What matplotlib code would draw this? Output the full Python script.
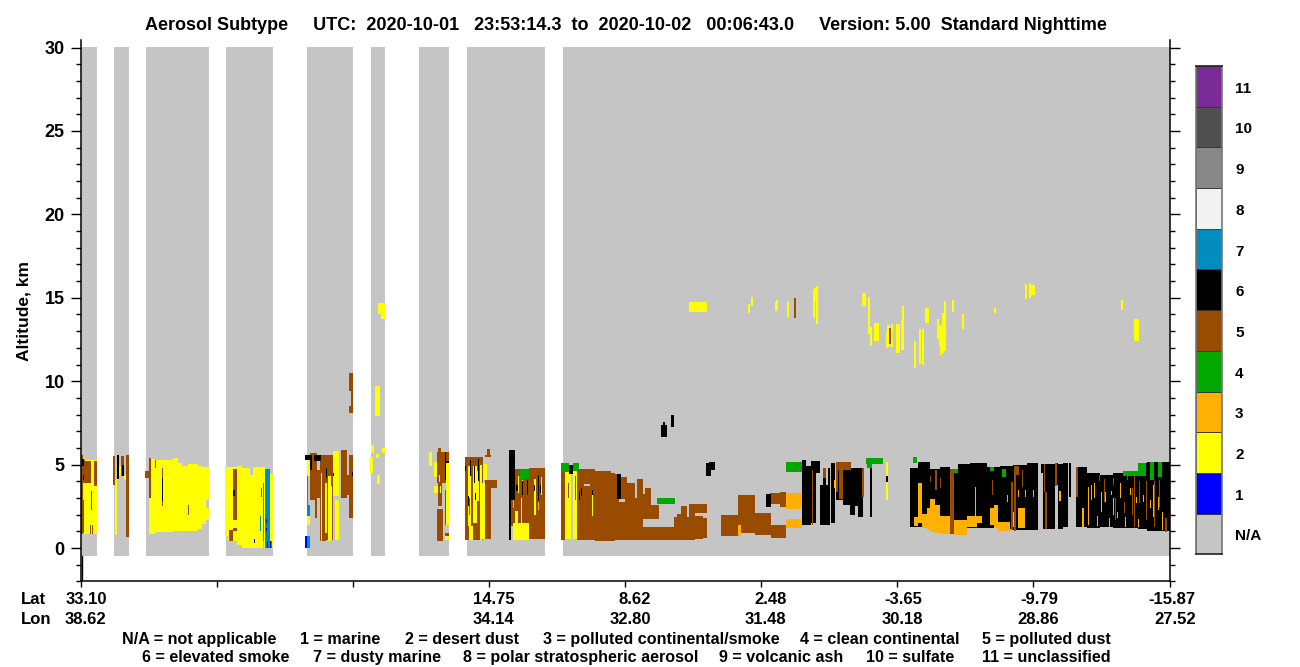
import matplotlib
matplotlib.use("Agg")
import matplotlib.pyplot as plt
import numpy as np

plt.rcParams["font.family"] = ["Liberation Sans", "DejaVu Sans"]
plt.rcParams["font.weight"] = "bold"

# everything below is (track start, track end, alt bottom km, alt top km)
# track = position along the orbit, one unit is one image column
na_tracks = [(0, 16), (33, 48), (65, 128), (145, 192), (226, 272), (290, 304),
             (338, 368), (386, 464), (482, 1089)]

dust_base = [
    (229, 236, 2.9, 5.7), (234, 236, 1.8, 2.9), (236, 239, 3.0, 4.7), (239, 245, 0.4, 5.6),
    (245, 252, 0.5, 5.6), (260, 266, 3.0, 5.9), (266, 268.5, 3.2, 4.4), (268, 272, 1.8, 5.6),
    (356, 368, 3.9, 5.75), (357, 361, 2.5, 3.9), (356, 362, 0.42, 2.35), (357, 360, 5.7, 6.0),
    (384, 402, 0.5, 5.45), (404, 416, 3.6, 4.1), (404, 410, 0.55, 3.6), (406, 409, 5.5, 5.95),
    (404, 410, 5.45, 5.55), (430, 448, 1.3, 4.75), (448, 464, 0.55, 4.8), (480, 484, 0.5, 4.55),
    (496, 514, 0.5, 4.75), (514, 530, 0.42, 4.6), (530, 534, 0.42, 4.5), (534, 540, 0.5, 4.45),
    (540, 546, 0.5, 4.25), (546, 554, 0.5, 3.9), (554, 556, 0.5, 3.0), (556, 562, 0.5, 4.15),
    (562, 564, 1.75, 3.25), (564, 570, 2.6, 3.6), (562, 578, 1.75, 2.6), (562, 593, 0.5, 1.25),
    (593, 596, 0.5, 1.85), (596, 600, 0.5, 2.05), (600, 606, 0.5, 2.5), (606, 608, 0.5, 1.85),
    (608, 626, 2.1, 2.65), (608, 614, 0.5, 2.1), (614, 622, 0.55, 1.9), (622, 626, 0.6, 1.8),
    (640, 657, 0.72, 1.98), (657, 674, 0.9, 3.18), (674, 690, 0.8, 2.1), (690, 705, 0.6, 1.38),
    (689, 705, 2.64, 3.3), (699, 705, 2.48, 3.34), (699, 705, 1.08, 1.38),
    (268, 272, 8.1, 8.5), (270, 272, 8.5, 9.4), (268, 272, 9.4, 10.5),
]

smoke_base = [
    (721, 725, 1.38, 5.28), (725, 730, 1.38, 4.9), (730, 735, 1.5, 5.2), (735, 739, 4.5, 5.2),
    (739, 749, 1.38, 3.78), (742, 745, 3.7, 4.8), (747, 749, 3.7, 4.8), (750, 754, 1.5, 5.1),
    (755, 782, 2.9, 4.8), (762, 769, 2.58, 4.78), (769, 774, 2.0, 4.78), (774, 777, 2.5, 4.78),
    (777, 782, 1.86, 4.78), (789, 791, 1.88, 4.88),
    (829, 837, 1.24, 4.78), (837, 849, 1.24, 5.16), (849, 859, 1.24, 4.72), (859, 869, 1.24, 4.88),
    (869, 877, 1.24, 4.72), (877, 889, 1.2, 5.04), (889, 906, 1.2, 5.08), (906, 919, 1.2, 4.88),
    (919, 932, 1.15, 4.92), (932, 946, 1.1, 5.0), (946, 957, 1.1, 5.08), (960, 962.5, 4.5, 5.04),
    (962.5, 974, 1.15, 5.04), (974, 977, 3.8, 5.1), (977, 982, 1.15, 5.04), (982, 987, 1.24, 5.12),
    (988, 990, 3.08, 5.08), (995, 1006, 1.24, 4.84), (1006, 1019, 1.2, 4.48), (1019, 1032, 1.24, 4.38),
    (1032, 1042, 1.2, 4.48), (1042, 1057, 1.2, 4.58), (1057, 1066, 1.15, 5.08), (1066, 1089, 1.02, 5.16),
]

desert_dust = [
    (0, 16, 0.84, 5.25), (34, 36, 0.8, 4.1), (36, 37.5, 4.1, 5.6), (38, 40, 4.4, 4.9), (43, 46, 4.1, 4.4),
    (68, 74, 0.85, 5.35), (74, 92, 0.95, 5.3), (92, 97, 1.0, 5.4), (97, 101, 1.03, 5.1),
    (101, 107, 1.03, 4.9), (107, 117, 1.02, 5.05), (117, 121, 1.15, 4.92), (121, 125, 1.45, 4.88),
    (125, 128, 1.7, 2.4), (125, 128, 2.9, 4.88),
    (144.5, 147.5, 0.75, 4.85), (147.5, 156, 0.4, 4.85), (156, 161, 0.2, 4.9), (161, 169, 0.02, 4.8),
    (169, 172.5, 0.02, 4.4), (172.5, 184, 0.02, 4.85), (189, 192, 0.02, 4.45),
    (226, 229, 1.4, 1.9), (226, 229, 4.3, 4.7), (226, 229, 4.7, 5.3), (252, 258, 3.1, 5.8), (254, 258, 0.5, 2.9),
    (240, 241, 0.4, 4.5), (244, 246, 0.9, 3.9), (247, 250, 0.4, 4.3), (250, 251, 0.5, 3.7),
    (294, 299, 7.9, 9.7), (290, 293, 5.7, 6.2), (289, 292, 4.5, 5.45), (295, 298, 5.4, 5.65),
    (296, 299, 3.85, 4.4), (301, 304, 5.7, 6.0), (297, 304, 14.0, 14.7), (300, 304, 13.7, 14.0),
    (348, 351.5, 4.9, 5.75), (353, 356, 4.25, 5.15), (353, 357, 3.3, 3.7), (365, 368, 1.4, 5.2),
    (364, 368, 0.5, 0.9), (358, 359, 3.95, 4.4), (359, 360, 3.3, 3.7),
    (388, 392, 0.5, 1.3), (387, 390, 1.3, 4.9), (392, 396, 1.5, 4.9), (399, 401.5, 0.5, 5.0),
    (401.5, 404, 0.55, 3.9), (402, 406, 4.1, 5.05), (396, 398, 2.8, 4.6),
    (432, 448, 0.5, 1.5), (434, 437.5, 0.7, 2.2), (433, 434, 3.2, 4.3), (437, 438, 3.3, 4.3),
    (441, 442, 3.2, 4.1), (440, 441, 1.2, 3.0), (453, 455, 2.0, 4.15), (460, 461, 3.2, 4.25),
    (484, 490, 0.52, 4.7), (492, 496, 0.52, 4.6), (511, 512, 1.9, 3.2),
    (805, 807, 2.88, 5.16),
    # up high
    (608, 626, 14.16, 14.76), (667, 669, 14.1, 14.64), (670, 672, 14.52, 15.06), (694, 696, 14.22, 14.76),
    (695, 697, 14.28, 14.88), (706, 708, 13.86, 14.82), (732, 734, 13.8, 15.48), (733, 735, 14.8, 15.6),
    (735, 737, 13.44, 15.72), (781, 785, 14.48, 15.28), (787, 789, 12.84, 15.06), (789, 791, 12.12, 13.26),
    (793, 798, 12.42, 13.5), (805, 807, 12.0, 13.02), (806, 809, 12.06, 13.38), (810, 812, 12.06, 13.44),
    (815, 819, 11.7, 13.44), (820, 822, 11.84, 13.62), (821, 823, 11.88, 14.52), (833, 835, 10.8, 12.42),
    (838, 840, 11.04, 13.14), (841, 843, 10.98, 13.14), (844, 848, 13.5, 14.4), (856, 858, 12.54, 13.74),
    (858, 861, 12.12, 13.38), (859, 861, 11.58, 13.38), (861, 863, 11.7, 14.1), (863, 865, 11.78, 14.82),
    (871, 873, 14.16, 14.88), (881, 883, 13.14, 14.04), (913, 915, 14.1, 14.4), (944, 946, 14.94, 15.84),
    (948, 950, 15.0, 15.9), (950, 954, 15.18, 15.78), (1040, 1042, 14.28, 14.88), (1053, 1058, 12.42, 13.74),
]

continental = [
    (705, 721, 2.34, 3.28), (705, 721, 1.18, 1.74), (657, 660, 0.7, 1.4),
    (833, 837, 1.32, 1.84), (837, 841, 1.48, 3.88), (841, 846, 1.18, 2.04), (846, 849, 1.08, 2.38),
    (849, 854, 0.98, 2.92), (854, 859, 0.88, 2.58), (859, 869, 0.84, 1.92), (873, 882, 0.8, 1.68),
    (882, 886, 0.78, 1.68), (886, 896, 1.28, 1.92), (896, 901, 1.48, 1.92), (909, 913, 1.38, 2.38),
    (913, 917, 1.18, 2.58), (917, 929, 1.04, 1.58), (937, 944, 1.18, 2.38),
    (978, 980, 2.82, 3.44), (753, 754.5, 3.58, 4.08), (894, 895, 1.68, 3.68), (944, 945, 3.08, 3.48),
    (952, 953, 3.08, 3.48), (926, 927, 2.78, 3.18), (937, 938, 3.08, 3.48), (932, 933, 1.28, 2.18),
    (1001, 1003, 1.24, 2.38), (1007, 1008, 1.38, 3.68), (1010, 1011, 2.88, 3.78), (1013, 1014, 2.98, 3.88),
    (1016, 1017, 1.32, 1.92), (1020, 1021, 2.18, 3.38), (1024, 1025, 2.78, 3.38), (1028, 1029, 1.24, 1.78),
    (1030, 1031, 3.18, 3.44), (1032, 1033, 1.98, 2.98), (1036, 1037, 1.78, 2.18), (1039, 1040, 2.98, 3.88),
    (1044, 1045, 1.24, 1.88), (1049, 1050, 3.18, 3.58), (1055, 1056, 2.68, 3.08), (1057, 1058, 1.24, 1.72),
    (1062, 1063, 2.78, 3.18), (1069, 1070, 2.38, 2.88), (1072, 1073, 1.88, 3.78), (1077, 1078, 2.28, 3.08),
    (1081, 1082, 1.08, 2.18),
    (432, 433, 2.4, 2.9), (457, 458, 2.28, 2.78), (185, 186, 1.75, 2.2), (182, 183, 0.02, 0.4),
]

dust_stripes = [
    (0, 2, 0.85, 5.6), (2, 10, 3.9, 5.2), (0, 3.5, 0.88, 2.9), (9, 10, 0.85, 1.4), (11, 12, 0.85, 1.4),
    (10, 11, 2.3, 3.4), (13, 16, 3.7, 5.2), (2, 4, 4.0, 5.3),
    (32.5, 34.5, 3.8, 5.5), (40, 43, 4.3, 5.5), (45, 48, 4.1, 5.6), (45.5, 48, 0.65, 4.1),
    (64, 68, 4.2, 4.6), (68.5, 70.5, 3.0, 5.4), (74, 75, 4.8, 5.3), (81.5, 82.5, 2.5, 4.8), (107, 108, 2.0, 2.55),
    (152, 156, 1.7, 4.75), (148, 152, 0.4, 1.1), (152, 156, 1.0, 1.2), (180, 181, 3.05, 3.6),
    (364.5, 365.5, 1.4, 3.5), (364, 368, 0.75, 0.9), (384, 388, 0.55, 1.3), (388, 389, 2.0, 3.0),
    (392, 393, 1.0, 1.5), (396, 398, 0.5, 1.8), (487, 488, 3.0, 3.9), (494, 495, 2.9, 4.3),
    (869, 873, 0.84, 4.72), (933, 935, 1.0, 4.9), (935, 938, 4.4, 4.9), (930, 932, 1.08, 3.98),
    (964, 966, 1.12, 3.38), (963, 964, 3.38, 5.04), (974, 976, 3.72, 5.08), (995, 997, 3.08, 4.84),
    (731, 732.5, 1.38, 4.68), (742, 745, 4.22, 4.78), (781, 783, 3.08, 4.78),
    (755, 770, 4.7, 5.16), (755, 757, 3.38, 5.16), (758, 762, 2.92, 4.7),
    (854, 856, 3.48, 4.68), (859, 860, 3.58, 4.18), (849, 850, 3.98, 4.32), (911, 912, 3.18, 4.08),
    (941, 942, 3.68, 4.68), (1018, 1019, 4.0, 4.38), (1023, 1024, 2.78, 4.12), (1032, 1033, 3.78, 4.18),
    (1034, 1035, 1.68, 2.98), (1043, 1044, 2.08, 2.78), (1046, 1047, 4.08, 4.48), (1053, 1054, 1.28, 4.38),
    (1051, 1052, 2.0, 3.58), (1058, 1059, 2.68, 4.0), (1065, 1066, 1.68, 4.0), (1073, 1074, 1.28, 4.0),
    (1078, 1079, 2.48, 4.08), (1084, 1086, 0.98, 1.78),
    (713, 715, 13.8, 15.0), (808, 810, 12.24, 13.2),
]

smoke_stripes = [
    (2.5, 3.5, 4.05, 4.4), (1.5, 3.5, 4.9, 5.35), (36, 38, 4.15, 5.55), (41, 43, 4.3, 5.0),
    (81.5, 82.5, 2.8, 4.2), (152.5, 154, 3.1, 3.5), (224, 231, 5.3, 5.6), (233, 240, 5.2, 5.6),
    (229, 231, 4.7, 5.3), (245, 246.5, 4.2, 4.8), (252, 253, 4.3, 4.5), (271, 272, 4.3, 4.55),
    (364.5, 365.5, 4.1, 5.75), (365.5, 368, 5.1, 5.2), (389, 390, 4.3, 5.3), (393, 394, 3.9, 4.9),
    (397, 398, 4.0, 5.35), (394, 395, 2.9, 3.3), (387, 388, 2.5, 3.1), (384, 385, 4.6, 4.9),
    (428, 430, 0.5, 5.85), (430, 434, 2.9, 5.9), (435, 437, 3.4, 3.8), (441, 442, 3.2, 4.0),
    (446, 447, 3.2, 4.1), (453, 454, 3.4, 3.8), (457, 458, 2.8, 4.4), (459, 460, 3.3, 3.8),
    (488, 492, 4.45, 5.0), (536, 540, 2.94, 4.45), (498, 499, 2.9, 3.4), (500, 501, 3.1, 3.6), (511, 512, 3.2, 3.5),
    (685, 690, 2.46, 3.24), (580, 586, 6.65, 7.35), (582, 584, 7.35, 7.55), (590, 593, 7.25, 7.98),
    (625, 630, 4.3, 5.1), (628, 634, 4.68, 5.16), (805, 807, 3.96, 4.32),
]

clean_continental = [
    (439, 448, 4.15, 4.7), (480, 488, 4.55, 5.1), (492, 498, 4.6, 5.1), (576, 594, 2.65, 3.0),
    (705, 721, 4.56, 5.16), (785, 802, 5.04, 5.4), (786, 791, 4.8, 5.04), (832, 836, 5.12, 5.44),
    (873, 877, 4.48, 4.72), (909, 913, 4.64, 4.84), (921, 925, 4.28, 4.74), (1042, 1057, 4.3, 4.6),
    (1057, 1065, 4.3, 5.08), (1069, 1073, 4.1, 5.16), (1077, 1081, 4.28, 5.16),
]

dusty_marine = [
    (184, 189, 0.02, 4.75), (179, 180, 1.0, 1.9), (182, 183, 0.4, 3.9), (186, 191, 0.02, 0.45),
    (226, 229, 1.9, 2.6), (226, 227, 2.6, 4.3), (224, 229, 0.02, 0.72),
]

marine = [
    (173, 174, 0.3, 0.55), (185, 186, 1.5, 1.75), (185, 186, 1.0, 1.2), (186, 187, 0.02, 0.45),
    (189, 190, 0.02, 0.45), (224, 226, 0.02, 0.72),
]

# small clear holes inside the layers
na_holes = [(538, 544, 2.76, 2.94), (503, 509, 3.7, 3.86), (562, 564, 1.25, 1.75)]

lat_ticks = [0, 136, 272, 408, 544, 680, 816, 952, 1089]
lat_labels = {408: "14.75", 544: "8.62", 680: "2.48", 816: "-3.65", 952: "-9.79", 1089: "-15.87", 0: "33.10"}
lon_labels = {408: "34.14", 544: "32.80", 680: "31.48", 816: "30.18", 952: "28.86", 1089: "27.52", 0: "38.62"}

bar_names = ["N/A", "1", "2", "3", "4", "5", "6", "7", "8", "9", "10", "11"]
bar_colors = ["#C5C5C5", "#0000FF", "#FFFF00", "#FFB000", "#00A800", "#994C00",
              "#000000", "#008CBF", "#F2F2F2", "#888888", "#505050", "#7A2B96"]

key_row1 = ["N/A = not applicable", "1 = marine", "2 = desert dust",
            "3 = polluted continental/smoke", "4 = clean continental", "5 = polluted dust"]
key_row2 = ["6 = elevated smoke", "7 = dusty marine", "8 = polar stratospheric aerosol",
            "9 = volcanic ash", "10 = sulfate", "11 = unclassified"]
key_x1 = [122, 300, 405, 543, 800, 982]
key_x2 = [142, 313, 463, 719, 866, 982]

W, H = 1300, 667
fig = plt.figure(figsize=(W / 100, H / 100), dpi=100)
ax = fig.add_axes([80.7 / W, 1 - 581.4 / H, 1089 / W, (581.4 - 40) / H])


def draw(segments, color):
    for x0, x1, z0, z1 in segments:
        ax.bar(x0, z1 - z0, width=x1 - x0, bottom=z0, align="edge", color=color,
               linewidth=0, antialiased=False)


for x0, x1 in na_tracks:
    ax.bar(x0, 30.55, width=x1 - x0, bottom=-0.5, align="edge", color=bar_colors[0],
           linewidth=0, antialiased=False)

draw(smoke_base, bar_colors[6])
draw(dust_base, bar_colors[5])
draw(desert_dust, bar_colors[2])
draw(continental, bar_colors[3])
draw(dust_stripes, bar_colors[5])
draw(smoke_stripes, bar_colors[6])
draw(clean_continental, bar_colors[4])
draw(dusty_marine, bar_colors[7])
draw(marine, bar_colors[1])
draw(na_holes, bar_colors[0])

ax.set_xlim(0, 1089)
ax.set_ylim(-2, 30.45)
ax.spines["top"].set_visible(False)
for s in ["left", "right", "bottom"]:
    ax.spines[s].set_linewidth(1.1)

ax.set_yticks(np.arange(0, 31, 5))
ax.set_yticks(np.arange(-2, 31, 1), minor=True)
ax.tick_params(axis="y", which="major", left=True, right=True, length=7.5, width=1, labelsize=13, pad=4)
ax.tick_params(axis="y", which="minor", left=True, right=True, length=3.6, width=1)
ax.set_xticks(lat_ticks)
ax.set_xticklabels([])
ax.tick_params(axis="x", length=4.5, width=1)
ax.plot([1.2, 1.2], [-2, -0.5], color="black", lw=1)
ax.set_ylabel("Altitude, km", fontsize=12.5, fontweight="bold", labelpad=9.5)

ax.text(-60, -3.36, "Lat", fontsize=12, va="baseline", clip_on=False)
ax.text(-60, -4.56, "Lon", fontsize=12, va="baseline", clip_on=False)
for t, s in lat_labels.items():
    ax.text(t + 26, -3.36, s, fontsize=12, ha="right", va="baseline", clip_on=False)
for t, s in lon_labels.items():
    ax.text(t + 26, -4.56, s, fontsize=12, ha="right", va="baseline", clip_on=False)

fig.text(626 / W, 1 - 29.5 / H, "Aerosol Subtype     UTC:  2020-10-01   23:53:14.3  to  2020-10-02   00:06:43.0"
         "     Version: 5.00  Standard Nighttime", fontsize=13, ha="center", va="baseline")

for x, s in zip(key_x1, key_row1):
    fig.text(x / W, 1 - 644 / H, s, fontsize=11.6, va="baseline")
for x, s in zip(key_x2, key_row2):
    fig.text(x / W, 1 - 662 / H, s, fontsize=11.6, va="baseline")

# colour key on the right
cax = fig.add_axes([1196 / W, 1 - 554.3 / H, 26 / W, (554.3 - 66) / H])
cax.bar(np.zeros(12), np.ones(12), width=1, bottom=np.arange(12), align="edge", color=bar_colors,
        edgecolor="#333333", linewidth=0.6)
cax.set_xlim(0, 1)
cax.set_ylim(0, 12)
cax.set_xticks([])
cax.set_yticks([])
for s in cax.spines.values():
    s.set_color("#777777")
    s.set_linewidth(1.2)
cax.spines["top"].set_color("#222222")
cax.spines["bottom"].set_color("#222222")
for i, s in enumerate(bar_names):
    cax.text(1.5, i + 0.44, s, fontsize=11, va="center", ha="left", clip_on=False)

fig.savefig("out.png", dpi=100)
